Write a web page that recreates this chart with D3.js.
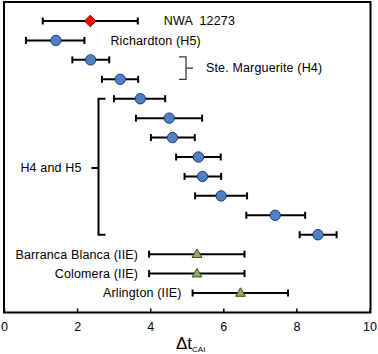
<!DOCTYPE html>
<html>
<head>
<meta charset="utf-8">
<script src="https://cdn.jsdelivr.net/npm/d3@7"></script>
<style>
  body { margin: 0; background: #fff; }
  text { font-family: "Liberation Sans", Arial, sans-serif; fill: #000; white-space: pre; }
</style>
</head>
<body>
<script>
let width = 378,
    height = 354;

// one row per sample, top to bottom
let groups = ["NWA", "H5", "H4", "H4", "H", "H", "H", "H", "H", "H", "H", "H", "IIE", "IIE", "IIE"];
let centers = [2.36, 1.42, 2.37, 3.18, 3.73, 4.52, 4.61, 5.32, 5.43, 5.94, 7.42, 8.59, 5.28, 5.28, 6.47];
let lows    = [1.06, 0.60, 1.87, 2.68, 3.01, 3.61, 4.02, 4.71, 4.94, 5.23, 6.63, 8.09, 3.97, 3.97, 5.16];
let highs   = [3.66, 2.20, 2.88, 3.67, 4.41, 5.42, 5.22, 5.93, 5.94, 6.65, 8.24, 9.10, 6.58, 6.58, 7.77];
let names   = ["NWA  12273", "Richardton (H5)", "", "", "", "", "", "", "", "", "", "",
               "Barranca Blanca (IIE)", "Colomera (IIE)", "Arlington (IIE)"];
let xTicks = [0, 2, 4, 6, 8, 10];

let rows = centers.map(function(c, i) {
  return {i: i, group: groups[i], c: c, lo: lows[i], hi: highs[i], name: names[i]};
});

let svg = d3.select("body")
            .append("svg")
            .attr("width", width)
            .attr("height", height);

let xScale = d3.scaleLinear()
               .domain([0, 10])
               .range([4, 369.5]);

let yScale = d3.scalePoint()
               .domain(d3.range(rows.length))
               .range([21, 293]);

let frameTop = 2, frameBottom = 312.5;

// frame
svg.append("rect")
   .attr("x", xScale(0))
   .attr("y", frameTop)
   .attr("width", xScale(10) - xScale(0) + 1)
   .attr("height", frameBottom - frameTop)
   .attr("fill", "none")
   .attr("stroke", "#000")
   .attr("stroke-width", 2);

// bottom axis, ticks pointing inward
let xAxis = d3.axisBottom(xScale).tickValues(xTicks).tickSize(-4).tickPadding(10);
let ax = svg.append("g")
   .attr("transform", "translate(0," + frameBottom + ")")
   .call(xAxis);
ax.select(".domain").remove();
ax.selectAll(".tick line").attr("stroke", "#000").attr("stroke-width", 1.5);
ax.selectAll(".tick text")
  .style("font-size", "12.5px")
  .style("font-family", "Liberation Sans, Arial, sans-serif")
  .attr("fill", "#000");

// axis title
let title = svg.append("text")
   .attr("x", 176)
   .attr("y", 349)
   .style("font-size", "17px");
title.append("tspan").text("\u0394t");
title.append("tspan")
   .attr("dy", 3)
   .style("font-size", "8px")
   .text("CAI");

// error bars
let bars = svg.selectAll("g.bar")
   .data(rows)
   .enter()
   .append("g")
   .attr("class", "bar")
   .attr("stroke", "#000")
   .attr("stroke-width", 2);

bars.append("line")
   .attr("x1", function(d) { return xScale(d.lo); })
   .attr("x2", function(d) { return xScale(d.hi); })
   .attr("y1", function(d) { return yScale(d.i); })
   .attr("y2", function(d) { return yScale(d.i); });

bars.selectAll("line.cap")
   .data(function(d) { return [d.lo, d.hi].map(function(v) { return {v: v, i: d.i}; }); })
   .enter()
   .append("line")
   .attr("class", "cap")
   .attr("x1", function(d) { return xScale(d.v); })
   .attr("x2", function(d) { return xScale(d.v); })
   .attr("y1", function(d) { return yScale(d.i) - 3.5; })
   .attr("y2", function(d) { return yScale(d.i) + 3.5; });

// markers
svg.selectAll("circle.pt")
   .data(rows.filter(function(d) { return d.group !== "NWA" && d.group !== "IIE"; }))
   .enter()
   .append("circle")
   .attr("class", "pt")
   .attr("cx", function(d) { return xScale(d.c); })
   .attr("cy", function(d) { return yScale(d.i); })
   .attr("r", 5.2)
   .attr("fill", "#4f7fc4")
   .attr("stroke", "#1f3b6b")
   .attr("stroke-width", 1);

svg.selectAll("path.nwa")
   .data(rows.filter(function(d) { return d.group === "NWA"; }))
   .enter()
   .append("path")
   .attr("class", "nwa")
   .attr("d", d3.symbol(d3.symbolDiamond2, 85))
   .attr("transform", function(d) { return "translate(" + xScale(d.c) + "," + yScale(d.i) + ")"; })
   .attr("fill", "#ff0000")
   .attr("stroke", "#9a0000")
   .attr("stroke-width", 1);

svg.selectAll("path.iie")
   .data(rows.filter(function(d) { return d.group === "IIE"; }))
   .enter()
   .append("path")
   .attr("class", "iie")
   .attr("d", d3.symbol(d3.symbolTriangle, 42))
   .attr("transform", function(d) { return "translate(" + xScale(d.c) + "," + (yScale(d.i) + 0.5) + ")"; })
   .attr("fill", "#8fb05a")
   .attr("stroke", "#3f5220")
   .attr("stroke-width", 1);

// labels
let fs = "12.5px";
svg.selectAll("text.lbl")
   .data(rows.filter(function(d) { return d.name && d.group !== "IIE"; }))
   .enter()
   .append("text")
   .attr("class", "lbl")
   .attr("x", function(d) { return xScale(d.hi) + 26; })
   .attr("y", function(d) { return yScale(d.i); })
   .attr("dy", "0.35em")
   .style("font-size", fs)
   .style("letter-spacing", "0.15px")
   .text(function(d) { return d.name; });

svg.selectAll("text.iie")
   .data(rows.filter(function(d) { return d.group === "IIE"; }))
   .enter()
   .append("text")
   .attr("class", "iie")
   .attr("x", function(d) { return xScale(d.lo) - 11; })
   .attr("y", function(d) { return yScale(d.i); })
   .attr("dy", "0.35em")
   .attr("text-anchor", "end")
   .style("font-size", fs)
   .style("letter-spacing", "0.15px")
   .text(function(d) { return d.name; });

// bracket for Ste. Marguerite (H4)
let h4 = rows.filter(function(d) { return d.group === "H4"; });
let bx = 186,
    by0 = yScale(h4[0].i) - 3,
    by1 = yScale(h4[h4.length - 1].i),
    bmid = (by0 + by1) / 2;
svg.append("path")
   .attr("d", "M" + (bx - 7) + "," + by0 + "H" + bx + "V" + by1 + "H" + (bx - 7) +
              "M" + bx + "," + bmid + "H" + (bx + 7))
   .attr("fill", "none")
   .attr("stroke", "#333")
   .attr("stroke-width", 1.2);
svg.append("text")
   .attr("x", bx + 20)
   .attr("y", bmid)
   .attr("dy", "0.35em")
   .style("font-size", fs)
   .style("letter-spacing", "0.15px")
   .text("Ste. Marguerite (H4)");

// bracket for H4 and H5
let hh = rows.filter(function(d) { return d.group === "H"; });
let cx0 = 98.5,
    cy0 = yScale(hh[0].i),
    cy1 = yScale(hh[hh.length - 1].i),
    cmid = 168;
svg.append("path")
   .attr("d", "M" + (cx0 + 7) + "," + cy0 + "H" + cx0 + "V" + cy1 + "H" + (cx0 + 7) +
              "M" + cx0 + "," + cmid + "H" + (cx0 - 7))
   .attr("fill", "none")
   .attr("stroke", "#000")
   .attr("stroke-width", 2);
svg.append("text")
   .attr("x", cx0 - 17)
   .attr("y", cmid)
   .attr("dy", "0.35em")
   .attr("text-anchor", "end")
   .style("font-size", fs)
   .style("letter-spacing", "0.15px")
   .text("H4 and H5");
</script>
</body>
</html>
